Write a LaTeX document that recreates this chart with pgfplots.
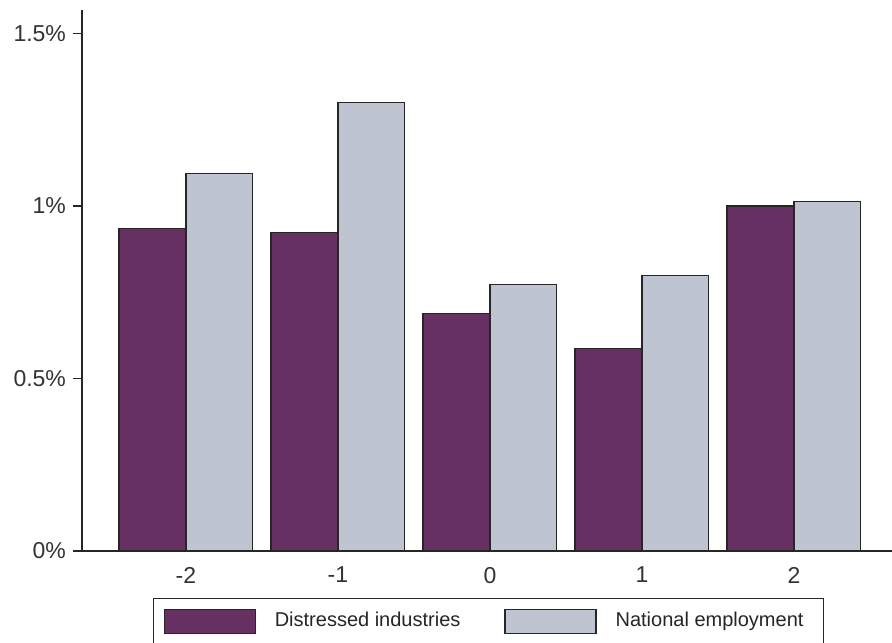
\documentclass[border=0pt]{standalone}
\usepackage{pgfplots}
\pgfplotsset{compat=1.18}
\usepackage{fontspec}
\setmainfont{Liberation Sans}
\definecolor{dpurple}{RGB}{102,49,98}
\definecolor{lgrey}{RGB}{191,197,208}
\begin{document}
\begin{tikzpicture}
\begin{axis}[
  scale only axis, width=405pt, height=270.5pt,
  xmin=-2.684, xmax=2.645, ymin=0, ymax=1.568,
  axis lines*=left,
  axis line style={line width=0.75pt, black!85, -},
  ybar, bar width=0.44,
  xtick={-2,-1,0,1,2}, xticklabels={-2,-1,0,1,2},
  ytick={0,0.5,1,1.5}, yticklabels={0\%,0.5\%,1\%,1.5\%},
  tick align=outside,
  major tick length=4.5pt,
  xtick style={draw=none},
  ytick style={line width=0.75pt, black!85},
  ticklabel style={font=\fontsize{11.5}{13}\selectfont, text=black!80},
  xticklabel style={yshift=0pt},
  legend columns=2,
  legend cell align=left,
  legend style={at={(rel axis cs:0,0)}, anchor=north west, xshift=35.5pt, yshift=-23.5pt,
    draw=black!85, line width=0.6pt, inner xsep=5pt, inner ysep=5pt,
    nodes={inner sep=0pt, font=\fontsize{10}{12}\selectfont, text=black!85},
    /tikz/every even column/.append style={column sep=22pt}},
  legend image code/.code={\draw[#1] (0pt,-6pt) rectangle (45.5pt,6pt); \path (55pt,0pt);},
]
\addplot[fill=dpurple, draw=black!85, line width=0.6pt, bar shift=-0.22]
  coordinates {(-2,0.935) (-1,0.924) (0,0.689) (1,0.588) (2,1.000)};
\addplot[fill=lgrey, draw=black!85, line width=0.6pt, bar shift=0.22]
  coordinates {(-2,1.095) (-1,1.300) (0,0.773) (1,0.799) (2,1.014)};
\legend{Distressed industries, National employment\hspace*{5pt}}
\coordinate (o) at (rel axis cs:0,0);
\end{axis}
\pgfresetboundingbox
\path (o) ++(-41pt,-45.5pt) rectangle ++(446pt,321pt);
\end{tikzpicture}
\end{document}
